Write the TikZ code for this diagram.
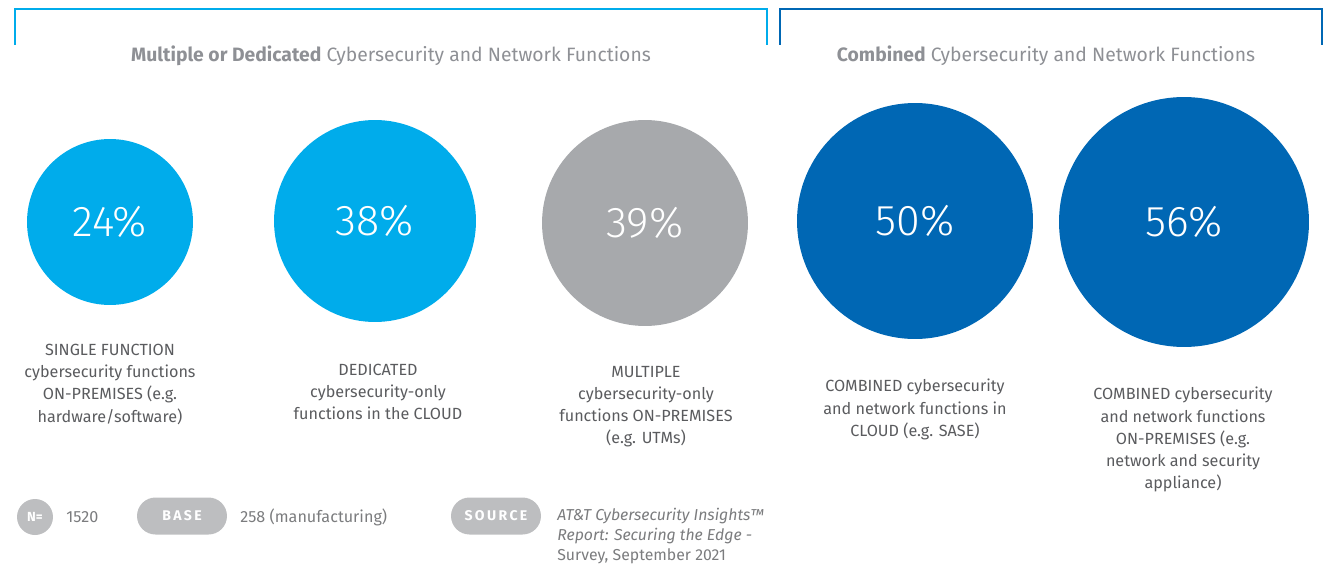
\documentclass[tikz,border=0pt]{standalone}
\usepackage{fontspec}
\setmainfont{Fira Sans}
\newfontfamily\lightfont{Fira Sans}[UprightFont={* Light}]
\usepackage{tikz}
\usetikzlibrary{shapes.misc}

\definecolor{lightblue}{HTML}{00ACEB}
\definecolor{darkblue}{HTML}{0067B4}
\definecolor{midgrey}{HTML}{A7A9AC}
\definecolor{pillgrey}{HTML}{BDBEC0}
\definecolor{textgrey}{HTML}{5A5B5E}
\definecolor{titlegrey}{HTML}{8E9095}

\tikzset{
	bubble/.style={circle, fill, inner sep=0pt, text=white, font=\lightfont\fontsize{24.5}{28}\selectfont},
	caption/.style={align=center, text=textgrey, font=\fontsize{9.2}{12.6}\selectfont, anchor=north, inner sep=0pt},
	header/.style={text=titlegrey, font=\fontsize{11}{14}\selectfont, inner sep=0pt},
	pill/.style={rounded rectangle, fill=pillgrey, text=white, font=\bfseries\fontsize{8}{10}\selectfont, inner sep=0pt},
	foot/.style={text=textgrey!80, font=\fontsize{9.2}{11}\selectfont, anchor=west, inner sep=0pt}
}

\begin{document}
\begin{tikzpicture}[x=0.02cm, y=-0.02cm]
	\useasboundingbox (0,0) rectangle (1327,564);

	% brackets
	\draw[lightblue, line width=1.5pt] (15,45) -- (15,9) -- (767,9) -- (767,45);
	\draw[darkblue, line width=1.5pt] (780,45) -- (780,9) -- (1322,9) -- (1322,45);
	\node[header] (hleft) at (391,56) {\textbf{Multiple or Dedicated} Cybersecurity and Network Functions};
	\node[header] (hright) at (1046,56) {\textbf{Combined} Cybersecurity and Network Functions};

	% circles
	\node[bubble, fill=lightblue, minimum size=3.32cm] (c1) at (110,222) {24\%};
	\node[bubble, fill=lightblue, minimum size=4.04cm] (c2) at (375,221) {38\%};
	\node[bubble, fill=midgrey, minimum size=4.12cm] (c3) at (645,223) {39\%};
	\node[bubble, fill=darkblue, minimum size=4.72cm] (c4) at (915,221) {50\%};
	\node[bubble, fill=darkblue, minimum size=5.0cm] (c5) at (1184,222) {56\%};

	% captions
	\node[caption] (t1) at (110,344) {SINGLE FUNCTION\\cybersecurity functions\\ON-PREMISES (e.g.\\hardware/software)};
	\node[caption] (t2) at (378,364) {DEDICATED\\cybersecurity-only\\functions in the CLOUD};
	\node[caption] (t3) at (646,366) {MULTIPLE\\cybersecurity-only\\functions ON-PREMISES\\(e.g. UTMs)};
	\node[caption] (t4) at (915,379) {COMBINED cybersecurity\\and network functions in\\CLOUD (e.g. SASE)};
	\node[caption] (t5) at (1183,387) {COMBINED cybersecurity\\and network functions\\ON-PREMISES (e.g.\\network and security\\appliance)};

	% footer
	\node[circle, fill=pillgrey, text=white, minimum size=0.72cm, inner sep=0pt, font=\bfseries\fontsize{7.5}{8}\selectfont] (n) at (35,517) {N=};
	\node[foot] (nval) at (66,517) {1520};
	\node[pill, minimum width=1.8cm, minimum height=0.74cm] (base) at (182,516) {B\,A\,S\,E};
	\node[foot] (bval) at (240,517) {258 (manufacturing)};
	\node[pill, minimum width=1.8cm, minimum height=0.74cm] (src) at (496,516) {S\,O\,U\,R\,C\,E};
	\node[foot, anchor=north west, align=left, font=\fontsize{9}{11.4}\selectfont] (sval) at (557,508) {\textit{AT\&T Cybersecurity Insights™}\\\textit{Report: Securing the Edge -}\\Survey, September 2021};
\end{tikzpicture}
\end{document}
